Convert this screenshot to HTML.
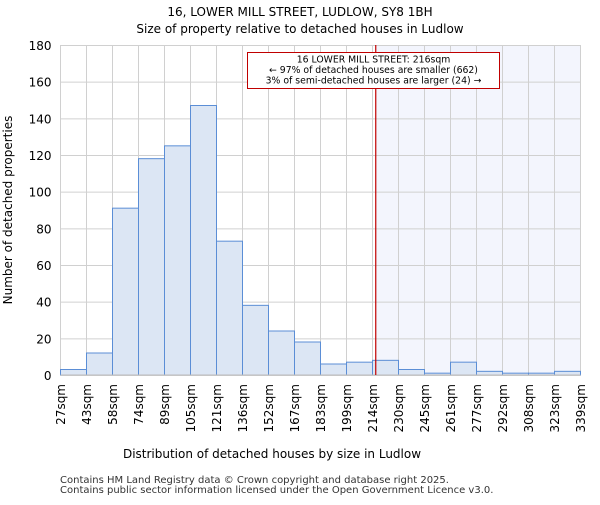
<!DOCTYPE html>
<html><head><meta charset="utf-8"><style>body{margin:0;background:#fff}svg{font-family:"DejaVu Sans","Liberation Sans",sans-serif}</style></head>
<body>
<svg id="c" width="600" height="500" xmlns="http://www.w3.org/2000/svg">
<text x="300" y="16" text-anchor="middle" font-size="12">16, LOWER MILL STREET, LUDLOW, SY8 1BH</text>
<text x="300" y="33" text-anchor="middle" font-size="12">Size of property relative to detached houses in Ludlow</text>
<g id="g"></g>
<text x="272" y="458" text-anchor="middle" font-size="12">Distribution of detached houses by size in Ludlow</text>
<text transform="translate(12,210) rotate(-90)" text-anchor="middle" font-size="12">Number of detached properties</text>
<text x="60" y="483" font-size="10" fill="#333">Contains HM Land Registry data © Crown copyright and database right 2025.</text>
<text x="60" y="493" font-size="10" fill="#333">Contains public sector information licensed under the Open Government Licence v3.0.</text>
</svg>
<script>
const binLabels=["27sqm","43sqm","58sqm","74sqm","89sqm","105sqm","121sqm","136sqm","152sqm","167sqm","183sqm","199sqm","214sqm","230sqm","245sqm","261sqm","277sqm","292sqm","308sqm","323sqm","339sqm"];
const binEdges=[27,43,58,74,89,105,121,136,152,167,183,199,214,230,245,261,277,292,308,323,339];
const counts=[3,12,91,118,125,147,73,38,24,18,6,7,8,3,1,7,2,1,1,2];
const yTicks=[0,20,40,60,80,100,120,140,160,180];
const propertySize=216;
const L=60.5,R=580.5,T=45,B=375,yMax=180;
const ns="http://www.w3.org/2000/svg",g=document.getElementById('g');
const xi=i=>L+i*(R-L)/counts.length;
function xv(v){for(let i=0;i<binEdges.length-1;i++){if(v<=binEdges[i+1])return xi(i)+(v-binEdges[i])/(binEdges[i+1]-binEdges[i])*(xi(i+1)-xi(i));}return R;}
const y=v=>B-v/yMax*(B-T);
function el(t,a){const e=document.createElementNS(ns,t);for(const k in a)e.setAttribute(k,a[k]);g.appendChild(e);return e;}
const px=xv(propertySize);
let e=el('rect',{x:px,y:T,width:R-px,height:B-T,fill:'#f3f5fd'});


binLabels.forEach((s,i)=>{const x=xi(i);
let l=el('line',{x1:x,x2:x,y1:T,y2:B,stroke:'#d0d0d0'});


let t=el('text',{transform:`translate(${x+4.5},384) rotate(-90)`,'text-anchor':'end','font-size':'12'});t.textContent=s;

});
yTicks.forEach(v=>{const yy=y(v)+0.5;
let l=el('line',{x1:L,x2:R,y1:yy,y2:yy,stroke:'#d0d0d0'});


let t=el('text',{x:L-9,y:yy+4.5,'text-anchor':'end','font-size':'12'});t.textContent=v;

});
counts.forEach((c,i)=>{const r=el('rect',{x:xi(i),y:y(c),width:xi(i+1)-xi(i),height:B-y(c),fill:'#dce6f4',stroke:'#5b8ed6','stroke-width':1});

});
e=el('line',{x1:L,x2:R,y1:B,y2:B,stroke:'#bbb'});


e=el('line',{x1:px,x2:px,y1:T,y2:B,stroke:'#c00000','stroke-width':1.2});


e=el('rect',{x:247.5,y:52.5,width:252,height:36,fill:'#fff',stroke:'#c00000'});


["16 LOWER MILL STREET: 216sqm","← 97% of detached houses are smaller (662)","3% of semi-detached houses are larger (24) →"].forEach((s,i)=>{const t=el('text',{x:373.5,y:62.5+i*10.5,'text-anchor':'middle','font-size':'9.3'});t.textContent=s;

});
</script>
</body></html>
